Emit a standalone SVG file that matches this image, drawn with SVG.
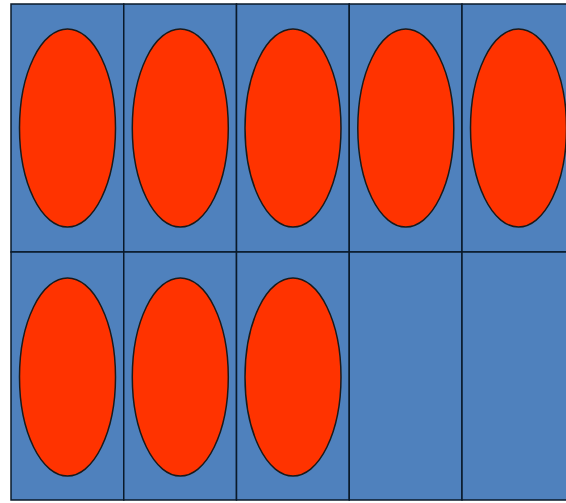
<svg xmlns="http://www.w3.org/2000/svg" width="566" height="503" viewBox="0 0 566 503">
<style>
.cell{fill:#4f81bd;stroke:#0a1a2a;stroke-width:1.5}
.dot{fill:#ff3300;stroke:#1a1a1a;stroke-width:1.5}
</style>
<rect x="0" y="0" width="566" height="503" fill="#ffffff"/>
<g id="cells">
<rect class="cell" x="11" y="4" width="112.75" height="248"/>
<rect class="cell" x="123.75" y="4" width="112.75" height="248"/>
<rect class="cell" x="236.5" y="4" width="112.75" height="248"/>
<rect class="cell" x="349.25" y="4" width="112.75" height="248"/>
<rect class="cell" x="462" y="4" width="112.75" height="248"/>
<rect class="cell" x="11" y="252" width="112.75" height="248"/>
<rect class="cell" x="123.75" y="252" width="112.75" height="248"/>
<rect class="cell" x="236.5" y="252" width="112.75" height="248"/>
<rect class="cell" x="349.25" y="252" width="112.75" height="248"/>
<rect class="cell" x="462" y="252" width="112.75" height="248"/>
</g>
<g id="counters">
<ellipse class="dot" cx="67.5" cy="128" rx="48" ry="99"/>
<ellipse class="dot" cx="180.3" cy="128" rx="48" ry="99"/>
<ellipse class="dot" cx="293" cy="128" rx="48" ry="99"/>
<ellipse class="dot" cx="405.8" cy="128" rx="48" ry="99"/>
<ellipse class="dot" cx="518.5" cy="128" rx="48" ry="99"/>
<ellipse class="dot" cx="67.5" cy="377" rx="48" ry="99"/>
<ellipse class="dot" cx="180.3" cy="377" rx="48" ry="99"/>
<ellipse class="dot" cx="293" cy="377" rx="48" ry="99"/>
</g>
</svg>
